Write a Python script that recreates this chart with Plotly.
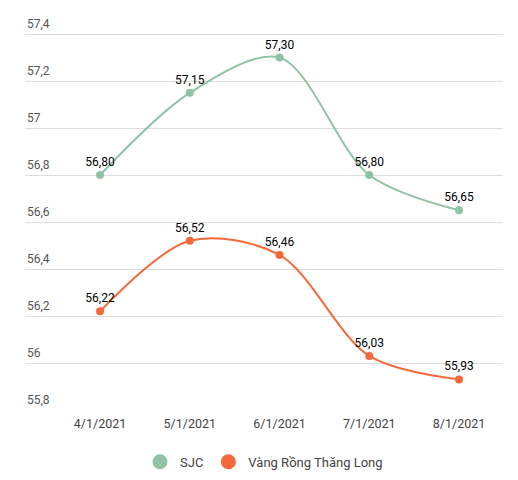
import plotly.graph_objects as go

# Giá vàng (triệu đồng/lượng)
dates = ["4/1/2021", "5/1/2021", "6/1/2021", "7/1/2021", "8/1/2021"]
sjc = [56.80, 57.15, 57.30, 56.80, 56.65]
rong_thang_long = [56.22, 56.52, 56.46, 56.03, 55.93]

series_names = ["SJC", "Vàng Rồng Thăng Long"]
colors = ["#8fc3a5", "#f4693a"]
y_ticks = [55.8, 56, 56.2, 56.4, 56.6, 56.8, 57, 57.2, 57.4]
y_labels = ["55,8", "56", "56,2", "56,4", "56,6", "56,8", "57", "57,2", "57,4"]

x_idx = list(range(len(dates)))

fig = go.Figure()

for name, vals, col in zip(series_names, [sjc, rong_thang_long], colors):
    fig.add_trace(go.Scatter(
        x=x_idx, y=vals,
        mode="lines+markers+text",
        line=dict(color=col, width=2, shape="spline", smoothing=0.9),
        marker=dict(color=col, size=8),
        text=vals,
        texttemplate="%{y:.2f}",
        textposition="top center",
        textfont=dict(size=12, color="#000000"),
        name=name,
        showlegend=False,
        cliponaxis=False,
    ))

# legend entries with larger dots
for name, col in zip(series_names, colors):
    fig.add_trace(go.Scatter(
        x=[None], y=[None], mode="markers",
        marker=dict(color=col, size=15),
        name=name,
    ))

# y labels sit above their gridlines, at the left edge
for v, lab in zip(y_ticks, y_labels):
    fig.add_annotation(
        x=0, xref="paper", xanchor="left",
        y=v, yref="y", yanchor="bottom", yshift=1,
        text=lab, showarrow=False,
        font=dict(size=12, color="#555"),
    )

# page body has an 8px margin, so shift everything up/left by that much
fig.update_layout(
    width=518, height=480,
    margin=dict(l=17, r=23, t=12, b=78, autoexpand=False),
    paper_bgcolor="white",
    plot_bgcolor="white",
    separators=",.",
    font=dict(family="Roboto", size=12, color="#444"),
    legend=dict(
        orientation="h", x=0.5, xanchor="center", y=-0.133, yanchor="middle",
        font=dict(size=13, color="#444"), itemsizing="trace",
    ),
)

fig.update_xaxes(
    tickmode="array", tickvals=x_idx, ticktext=dates,
    range=[-0.836, 4.49],
    showgrid=False, zeroline=False, showline=False,
    ticks="", tickfont=dict(size=12.5, color="#444"),
    ticklabelstandoff=4,
    automargin=False,
)
fig.update_yaxes(
    range=[55.8, 57.46], tickmode="array", tickvals=y_ticks,
    showgrid=True, gridcolor="#dddddd", gridwidth=1,
    zeroline=False, showline=False,
    showticklabels=False,
    automargin=False,
)

fig.write_html("out.html")
